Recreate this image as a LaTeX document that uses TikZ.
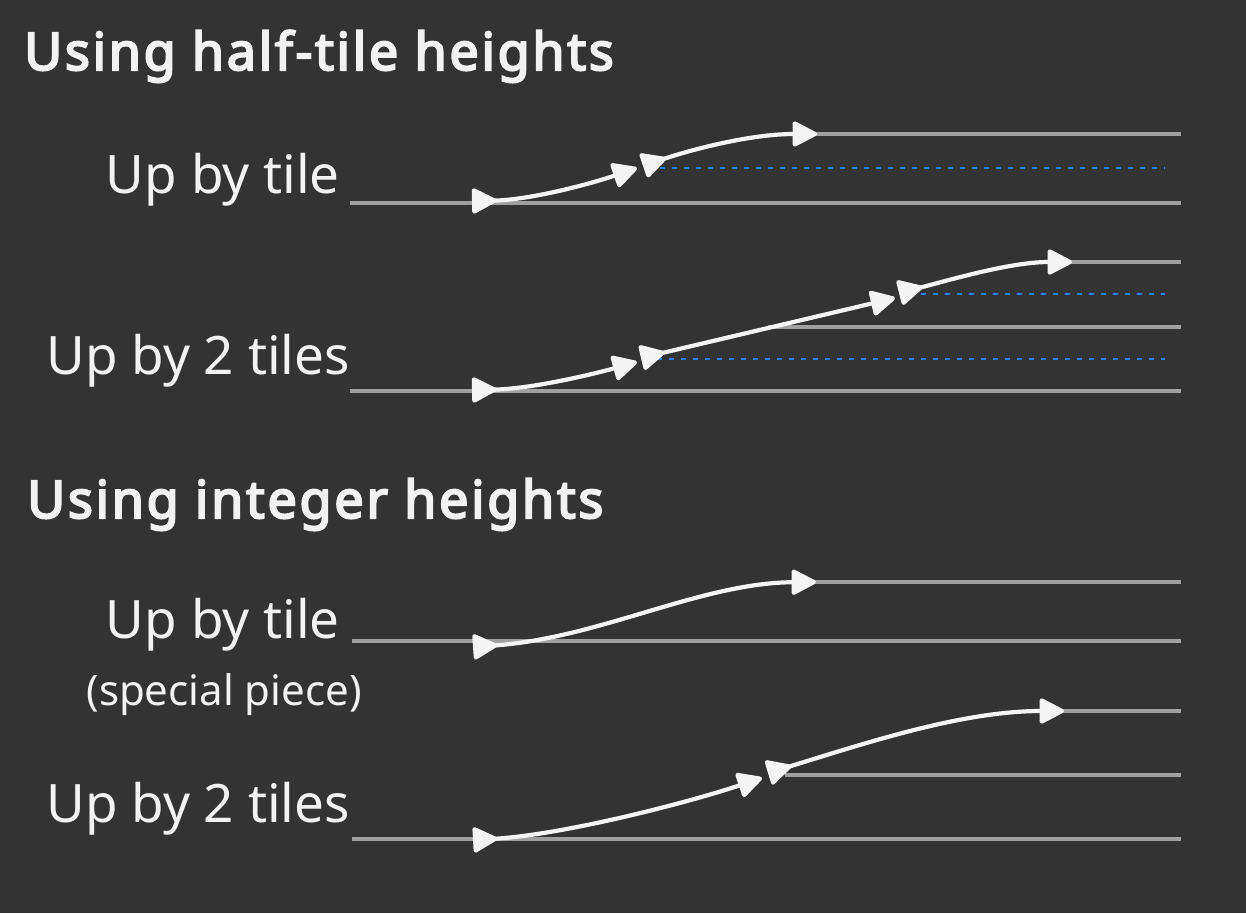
\documentclass[tikz,border=0pt]{standalone}
\usepackage{fontspec}
\setmainfont{Noto Sans}
\newfontfamily\titlefont{Noto Sans}[FakeBold=4,LetterSpace=5.3]
\usetikzlibrary{arrows.meta}
\definecolor{bgc}{HTML}{333333}
\definecolor{txtc}{HTML}{F2F2F2}
\definecolor{arrc}{HTML}{F4F4F4}
\definecolor{grayc}{HTML}{A0A0A0}
\definecolor{bluec}{HTML}{2A7FFF}
\tikzset{
  tilebase/.style={draw=grayc, line width=4.2pt},
  halfline/.style={draw=bluec, line width=2.6pt, dash pattern=on 4.5pt off 7.5pt},
  piece/.style={draw=arrc, line width=4.2pt, line cap=round,
    arrows={Triangle[reversed,length=27pt,width=27pt,round,fill=arrc]-Triangle[length=27pt,width=27pt,round,fill=arrc]}},
  title/.style={anchor=base west, inner sep=0pt, text=txtc, font=\titlefont\fontsize{52}{60}\selectfont},
  label/.style={anchor=base east, inner sep=0pt, text=txtc, font=\fontsize{53}{62}\selectfont},
  small/.style={anchor=base east, inner sep=0pt, text=txtc, font=\fontsize{42}{50}\selectfont}
}
\begin{document}
\begin{tikzpicture}[x=1pt,y=-1pt]
\fill[bgc] (0,0) rectangle (1246,913);
\useasboundingbox (0,0) rectangle (1246,913);

% titles and labels
\node[title] (t1) at (24,70) {Using half-tile heights};
\node[label] (l1) at (340,193) {Up by tile};
\node[label] (l2) at (350,374) {Up by 2 tiles};
\node[title] (t2) at (27,518) {Using integer heights};
\node[label] (l3) at (340,638) {Up by tile};
\node[small] (l3b) at (362,705) {(special piece)};
\node[label] (l4) at (350,822) {Up by 2 tiles};

% ---- section 1
\coordinate (s1a) at (350,203); \coordinate (s1b) at (1181,203);
\coordinate (s1c) at (815,134); \coordinate (s1d) at (1181,134);
\coordinate (s1e) at (660,168); \coordinate (s1f) at (1165,168);
\draw[tilebase] (s1a) -- (s1b);
\draw[tilebase] (s1c) -- (s1d);
\draw[halfline] (s1e) -- (s1f);
\coordinate (a1s) at (472,201); \coordinate (a1e) at (637,168);
\coordinate (a2s) at (643,166); \coordinate (a2e) at (817,134);
\draw[piece] (a1s) .. controls (530,200) and (590,184) .. (a1e);
\draw[piece] (a2s) .. controls (690,150) and (750,134) .. (a2e);

% ---- section 2
\coordinate (s2a) at (350,391); \coordinate (s2b) at (1181,391);
\coordinate (s2c) at (768,327); \coordinate (s2d) at (1181,327);
\coordinate (s2e) at (1070,262); \coordinate (s2f) at (1181,262);
\coordinate (s2g) at (657,359); \coordinate (s2h) at (1165,359);
\coordinate (s2i) at (921,294); \coordinate (s2j) at (1165,294);
\draw[tilebase] (s2a) -- (s2b);
\draw[tilebase] (s2c) -- (s2d);
\draw[tilebase] (s2e) -- (s2f);
\draw[halfline] (s2g) -- (s2h);
\draw[halfline] (s2i) -- (s2j);
\coordinate (b1s) at (472,390); \coordinate (b1e) at (637,362);
\coordinate (b2s) at (641,358); \coordinate (b2e) at (895,298);
\coordinate (b3s) at (899,293); \coordinate (b3e) at (1072,262);
\draw[piece] (b1s) .. controls (530,389) and (590,375) .. (b1e);
\draw[piece] (b2s) -- (b2e);
\draw[piece] (b3s) .. controls (950,280) and (1010,262) .. (b3e);

% ---- section 3
\coordinate (s3a) at (352,641); \coordinate (s3b) at (1181,641);
\coordinate (s3c) at (815,582); \coordinate (s3d) at (1181,582);
\draw[tilebase] (s3a) -- (s3b);
\draw[tilebase] (s3c) -- (s3d);
\coordinate (c1s) at (473,647); \coordinate (c1e) at (816,582);
\draw[piece] (c1s) .. controls (600,638) and (700,583) .. (c1e);

% ---- section 4
\coordinate (s4a) at (352,839); \coordinate (s4b) at (1181,839);
\coordinate (s4c) at (785,775); \coordinate (s4d) at (1181,775);
\coordinate (s4e) at (1062,711); \coordinate (s4f) at (1181,711);
\draw[tilebase] (s4a) -- (s4b);
\draw[tilebase] (s4c) -- (s4d);
\draw[tilebase] (s4e) -- (s4f);
\coordinate (d1s) at (473,840); \coordinate (d1e) at (762,778);
\coordinate (d2s) at (768,773); \coordinate (d2e) at (1064,711);
\draw[piece] (d1s) .. controls (560,835) and (680,805) .. (d1e);
\draw[piece] (d2s) .. controls (860,745) and (960,711) .. (d2e);
\end{tikzpicture}
\end{document}
